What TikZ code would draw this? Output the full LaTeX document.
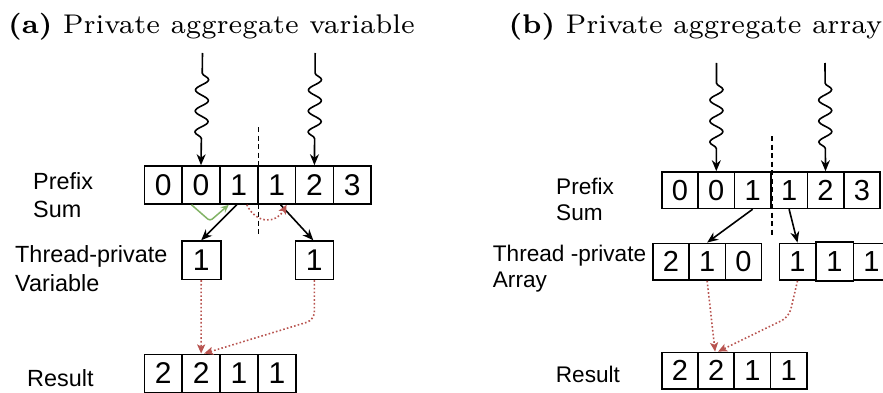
\documentclass[tikz,border=0pt]{standalone}
\usepackage{fontspec}
\usepackage{graphicx}
\newfontfamily\lsans{Liberation Sans}
\usetikzlibrary{arrows.meta,decorations.pathmorphing,calc}
\definecolor{dred}{HTML}{B85450}
\definecolor{dgreen}{HTML}{82B366}
\begin{document}
\begin{tikzpicture}[x=1pt,y=-1pt,
  cellbox/.style={draw,line width=1.6pt,inner sep=0pt},
  cellA/.style={cellbox,minimum width=37.8pt,minimum height=38pt,font=\lsans\fontsize{30}{30}\selectfont},
  cellB/.style={cellbox,minimum width=36.4pt,minimum height=36.4pt,font=\lsans\fontsize{29}{29}\selectfont},
  labA/.style={anchor=base west,align=left,inner sep=0pt,font=\lsans\fontsize{23.4}{27.8}\selectfont},
  labB/.style={anchor=base west,align=left,inner sep=0pt,font=\lsans\fontsize{22.6}{26}\selectfont},
  ttl/.style={anchor=base west,inner sep=0pt},
  blk/.style={line width=1.6pt,-{Stealth[length=11pt,width=9pt]}},
  grn/.style={line width=1.5pt,dgreen,rounded corners=3pt,-{Stealth[length=8pt,width=7pt]}},
  rdot/.style={line width=1.6pt,dred,dash pattern=on 1.6pt off 2.2pt,-{Stealth[length=9pt,width=8pt,inset=2pt]}},
  dashl/.style={line width=1.6pt,dash pattern=on 5pt off 3.5pt},
  wave/.style={line width=1.6pt,-{Stealth[length=11pt,width=9pt]},decorate,
    decoration={snake,segment length=21pt,amplitude=6.5pt,pre length=20pt,post length=17pt}}
]
\useasboundingbox (0,0) rectangle (883,393);
\clip (0,0) rectangle (883,393);

% ---------- titles ----------
\node[ttl] (ta) at (8,33.3) {\scalebox{3.86}{\fontsize{7}{8.4}\selectfont\textbf{(a)} Private aggregate variable}};
\node[ttl] (tb) at (508.3,33.3) {\scalebox{3.86}{\fontsize{7}{8.4}\selectfont\textbf{(b)} Private aggregate array}};

% ---------- panel (a) ----------
\foreach \v [count=\i] in {0,0,1,1,2,3}
  \node[cellA] (p\i) at ({144.3+37.8*\i-18.9},185) {\v};
\node[cellA,minimum width=39pt,minimum height=38.3pt] (t1) at (201.2,260.2) {1};
\node[cellA,minimum width=38pt,minimum height=38.3pt] (t2) at (314.3,260.2) {1};
\foreach \v [count=\i] in {2,2,1,1}
  \node[cellA] (r\i) at ({144.3+37.9*\i-18.95},373.3) {\v};

\node[labA] (la1) at (33,217) {Prefix\\Sum};
\node[labA,font=\lsans\fontsize{23.4}{28.3}\selectfont] (la2) at (15,291) {Thread-private\\Variable};
\node[labA] (la3) at (27,386) {Result};

\coordinate (w1) at (202.5,53);
\coordinate (w2) at (315.2,53);
\draw[wave] (w1) -- (p2.north);
\draw[wave] (w2) -- (p5.north);

\coordinate (da1) at ($(p3.north east)+(0,-38)$);
\coordinate (da2) at ($(p3.south east)+(0,28.7)$);
\draw[dashl] (da1) -- (da2);

\draw[blk] ($(p3.south)+(-2,0)$) -- (t1.north);
\draw[blk] ($(p4.south)+(4,0)$) -- ($(t2.north)+(-1,0)$);
\draw[grn] ($(p2.south)+(-9.5,0)$) -- (210,221) -- ($(p3.south)+(-10,0)$);
\draw[rdot] ($(p3.south)+(8,0)$) .. controls (256,224) and (276,224) .. ($(p4.south)+(10,0)$);
\draw[rdot] (t1.south) -- (r2.north);
\draw[rdot,rounded corners=8pt] (t2.south) -- (314.3,320) -- ($(r2.north)+(3,0)$);

% ---------- panel (b) ----------
\foreach \v [count=\i] in {0,0,1,1,2,3}
  \node[cellB] (q\i) at ({661.7+36.4*\i-18.2},190.2) {\v};
\foreach \v [count=\i] in {2,1,0}
  \node[cellB,minimum width=36.3pt,minimum height=36.7pt] (a\i) at ({652.7+36.3*\i-18.15},261.7) {\v};
\node[cellB,minimum height=36.7pt] (b1) at (797.5,261.7) {1};
\node[cellB,minimum width=37.6pt,minimum height=38.7pt] (b2) at (834.5,261.35) {1};
\node[cellB,minimum height=36.7pt] (b3) at (871.5,261.7) {1};
\foreach \v [count=\i] in {2,2,1,1}
  \node[cellB,minimum width=36.25pt,minimum height=36.6pt] (s\i) at ({661.7+36.25*\i-18.125},370.7) {\v};

\node[labB] (lb1) at (556,220) {Prefix\\Sum};
\node[labB] (lb2) at (492.7,287.7) {Thread -private\\Array};
\node[labB] (lb3) at (555.7,382.7) {Result};

\coordinate (w3) at (716.5,63);
\coordinate (w4) at (825,63);
\draw[wave] (w3) -- (q2.north);
\draw[wave] (w4) -- (q5.north);

\coordinate (db1) at ($(q3.north east)+(0,-35)$);
\coordinate (db2) at ($(q3.south east)+(0,26.5)$);
\draw[dashl] (db1) -- (db2);

\draw[blk] (q3.south) -- (a2.north);
\draw[blk] (q4.south) -- (b1.north);
\draw[rdot] (a2.south) -- ($(s2.north)+(-1,0)$);
\draw[rdot,rounded corners=8pt] (b1.south) -- (789,317) -- ($(s2.north)+(2,0)$);
\end{tikzpicture}
\end{document}
